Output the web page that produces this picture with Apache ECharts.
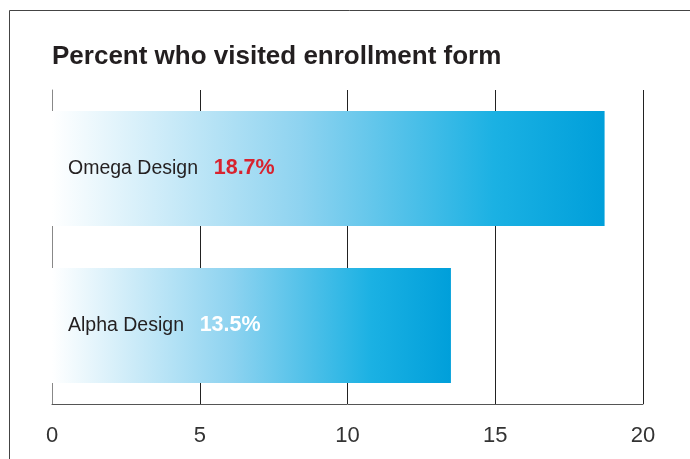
<!DOCTYPE html>
<html><head><meta charset="utf-8">
<script src="https://cdn.jsdelivr.net/npm/echarts@6/dist/echarts.min.js"></script>
<style>html,body{margin:0;padding:0;background:#fff}#c{width:690px;height:459px}</style>
</head><body><div id="c"></div>
<script>
const categories = ['Omega Design', 'Alpha Design'];
const values = [18.7, 13.5];
const valueColors = ['#d8232f', '#ffffff'];
const xTicks = [0, 5, 10, 15, 20];

const FONT = '"Liberation Sans Narrow", "Liberation Sans", Arial, sans-serif';
const chart = echarts.init(document.getElementById('c'));
chart.setOption({
  animation: false,
  title: {
    text: 'Percent who visited enrollment form',
    left: 47, top: 39,
    textStyle: { fontFamily: FONT, fontWeight: 'bold', fontSize: 26, color: '#231f20' }
  },
  graphic: [
    { type: 'polyline', shape: { points: [[9.5, 459], [9.5, 10.5], [690, 10.5]] }, style: { stroke: '#444', lineWidth: 1, fill: null } }
  ],
  grid: { left: 52, right: 47, top: 90, bottom: 55 },
  xAxis: {
    type: 'value', min: 0, max: 20, interval: 5,
    axisLine: { show: true, lineStyle: { color: '#555', width: 1 } },
    axisTick: { show: false },
    splitLine: { show: true, lineStyle: { color: '#222', width: 1 } },
    axisLabel: { fontFamily: FONT, fontSize: 22, color: '#333', margin: 21,
      formatter: v => xTicks.includes(v) ? String(v) : '' }
  },
  yAxis: {
    type: 'category', data: categories, inverse: true,
    axisLine: { show: true, lineStyle: { color: '#888', width: 1 } },
    axisTick: { show: false },
    axisLabel: { show: false },
    splitLine: { show: false }
  },
  series: [{
    type: 'bar',
    barWidth: 115,
    data: values.map((v, i) => ({
      value: v,
      label: {
        rich: {
          n: { fontFamily: FONT, fontSize: 19.5, color: '#231f20' },
          v: { fontFamily: FONT, fontSize: 21.5, fontWeight: 'bold', color: valueColors[i], padding: [0, 0, 0, 9] }
        }
      }
    })),
    itemStyle: {
      color: new echarts.graphic.LinearGradient(0, 0, 1, 0, [
        { offset: 0, color: '#ffffff' },
        { offset: 0.45, color: '#8ed3f0' },
        { offset: 0.8, color: '#1bb1e3' },
        { offset: 1, color: '#009fda' }
      ])
    },
    label: {
      show: true, position: 'insideLeft', distance: 16,
      formatter: p => '{n|' + p.name + '}  {v|' + p.value + '%}'
    }
  }]
});
</script></body></html>
